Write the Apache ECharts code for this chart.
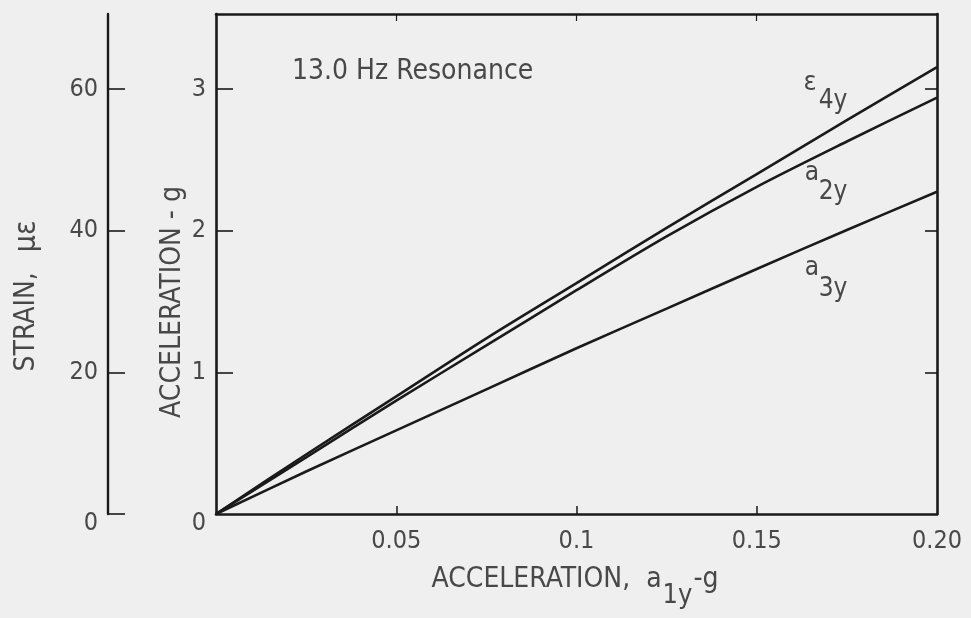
<!DOCTYPE html>
<html>
<head>
<meta charset="utf-8">
<script src="https://cdn.jsdelivr.net/npm/echarts@6/dist/echarts.min.js"></script>
<style>
  html, body { margin: 0; padding: 0; background: #efefef; }
  #chart { width: 971px; height: 618px; }
</style>
</head>
<body>
<div id="chart"></div>
<script>
// Base acceleration a1y (g)
const baseAccel = [0, 0.025, 0.05, 0.075, 0.1, 0.125, 0.15, 0.175, 0.2];
// Strain response eps4y (micro-strain)
const strain4y = [0, 8.4, 16.6, 24.8, 32.6, 40.4, 48.0, 55.6, 63.1];
// Acceleration responses (g)
const accel2y = [0, 0.40, 0.80, 1.19, 1.58, 1.96, 2.31, 2.63, 2.94];
const accel3y = [0, 0.30, 0.59, 0.88, 1.17, 1.45, 1.73, 2.005, 2.275];

// Tick labels
const xTickValues = [0.05, 0.1, 0.15, 0.2];
const xTickLabels = ['0.05', '0.1', '0.15', '0.20'];
const accelTicks = [0, 1, 2, 3];
const strainTicks = [0, 20, 40, 60];

const FONT = '"DejaVu Sans Condensed", "Liberation Sans Narrow", "DejaVu Sans", sans-serif';
const TEXT = '#484848';
const INK = '#1a1a1a';

const accelMax = 3.53;
const strainMax = accelMax * 20;

const pairs = (xs, ys) => xs.map((x, i) => [x, ys[i]]);

const chart = echarts.init(document.getElementById('chart'));

const lineStyle = { color: INK, width: 2.6 };
const frameLine = { show: true, onZero: false, lineStyle: { color: INK, width: 2.6 } };

// the zero labels on the vertical scales sit a little below their tick
const yLabel = {
  show: true, margin: 10, color: TEXT, fontSize: 25, fontFamily: FONT,
  formatter: v => (v === 0 ? '{z|0}' : String(v)),
  rich: { z: { color: TEXT, fontSize: 25, fontFamily: FONT, padding: [18, 0, 0, 0] } }
};

chart.setOption({
  backgroundColor: '#efefef',
  animation: false,
  textStyle: { fontFamily: FONT },
  grid: { left: 216, right: 34, top: 14, bottom: 104, outerBoundsMode: 'none' },
  xAxis: [
    {
      type: 'value', position: 'bottom', min: 0, max: 0.2,
      axisLine: frameLine,
      axisTick: { show: true, inside: true, length: 8, customValues: [0.05, 0.1, 0.15],
                  lineStyle: { color: INK, width: 1.5 } },
      axisLabel: {
        show: true, customValues: xTickValues, margin: 15,
        color: TEXT, fontSize: 25, fontFamily: FONT,
        formatter: v => {
          const i = xTickValues.findIndex(t => Math.abs(t - v) < 1e-9);
          return i >= 0 ? xTickLabels[i] : '';
        }
      },
      splitLine: { show: false }
    },
    {
      type: 'value', position: 'top', min: 0, max: 0.2,
      axisLine: frameLine,
      axisTick: { show: true, inside: true, length: 7, customValues: [0.05, 0.1, 0.15],
                  lineStyle: { color: INK, width: 1.2 } },
      axisLabel: { show: false },
      splitLine: { show: false }
    }
  ],
  yAxis: [
    {
      type: 'value', position: 'left', min: 0, max: accelMax,
      axisLine: frameLine,
      axisTick: { show: true, inside: true, length: 17, customValues: [1, 2, 3],
                  lineStyle: { color: INK, width: 1.6 } },
      axisLabel: Object.assign({ customValues: accelTicks }, yLabel),
      splitLine: { show: false }
    },
    {
      type: 'value', position: 'right', min: 0, max: accelMax,
      axisLine: frameLine,
      axisTick: { show: true, inside: true, length: 12, customValues: [1, 2, 3],
                  lineStyle: { color: INK, width: 1.6 } },
      axisLabel: { show: false },
      splitLine: { show: false }
    },
    {
      type: 'value', position: 'left', offset: 108, min: 0, max: strainMax,
      axisLine: { show: true, onZero: false, lineStyle: { color: INK, width: 2.4 } },
      axisTick: { show: true, inside: true, length: 17, customValues: strainTicks,
                  lineStyle: { color: INK, width: 1.6 } },
      axisLabel: Object.assign({ customValues: strainTicks }, yLabel),
      splitLine: { show: false }
    }
  ],
  series: [
    { name: 'ε4y', type: 'line', xAxisIndex: 0, yAxisIndex: 2, smooth: 0.3,
      showSymbol: false, lineStyle, data: pairs(baseAccel, strain4y) },
    { name: 'a2y', type: 'line', xAxisIndex: 0, yAxisIndex: 0, smooth: 0.3,
      showSymbol: false, lineStyle, data: pairs(baseAccel, accel2y) },
    { name: 'a3y', type: 'line', xAxisIndex: 0, yAxisIndex: 0, smooth: 0.3,
      showSymbol: false, lineStyle, data: pairs(baseAccel, accel3y) }
  ],
  graphic: [
    { type: 'text', x: 292, y: 72,
      style: { text: '13.0 Hz Resonance', fill: TEXT, font: '28px ' + FONT,
               align: 'left', verticalAlign: 'middle' } },
    { type: 'text', x: 27, y: 296, rotation: Math.PI / 2,
      style: {
        text: '{m|STRAIN,}{g| }{w|με}',
        align: 'center', verticalAlign: 'middle',
        rich: {
          m: { fill: TEXT, fontSize: 28, fontFamily: FONT },
          g: { fill: TEXT, fontSize: 28, fontFamily: FONT, width: 20 },
          w: { fill: TEXT, fontSize: 30, fontFamily: FONT }
        }
      } },
    { type: 'text', x: 173, y: 302, rotation: Math.PI / 2,
      style: { text: 'ACCELERATION - g', fill: TEXT, font: '28px ' + FONT,
               align: 'center', verticalAlign: 'middle' } },
    { type: 'text', x: 575, y: 588,
      style: {
        text: '{m|ACCELERATION,  a}{s|1y}{m|-g}',
        align: 'center', verticalAlign: 'middle',
        rich: {
          m: { fill: TEXT, fontSize: 28, fontFamily: FONT, padding: [0, 0, 16, 0] },
          s: { fill: TEXT, fontSize: 27, fontFamily: FONT, padding: [16, 1, 0, 1] }
        }
      } },
    // curve labels
    { type: 'text', x: 810, y: 83,
      style: { text: 'ε', fill: TEXT, font: '27px ' + FONT, align: 'center', verticalAlign: 'middle' } },
    { type: 'text', x: 833, y: 101,
      style: { text: '4y', fill: TEXT, font: '26px ' + FONT, align: 'center', verticalAlign: 'middle' } },
    { type: 'text', x: 812, y: 173,
      style: { text: 'a', fill: TEXT, font: '26px ' + FONT, align: 'center', verticalAlign: 'middle' } },
    { type: 'text', x: 833, y: 192,
      style: { text: '2y', fill: TEXT, font: '26px ' + FONT, align: 'center', verticalAlign: 'middle' } },
    { type: 'text', x: 812, y: 268,
      style: { text: 'a', fill: TEXT, font: '26px ' + FONT, align: 'center', verticalAlign: 'middle' } },
    { type: 'text', x: 833, y: 289,
      style: { text: '3y', fill: TEXT, font: '26px ' + FONT, align: 'center', verticalAlign: 'middle' } }
  ]
});
</script>
</body>
</html>
